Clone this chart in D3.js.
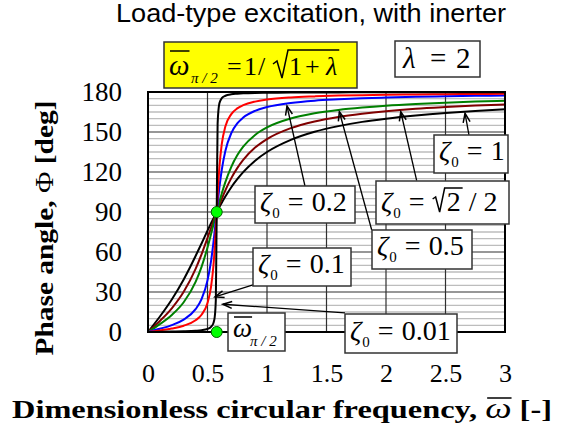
<!DOCTYPE html>
<html><head><meta charset="utf-8">
<script src="https://cdn.jsdelivr.net/npm/d3@7"></script>
<style>body{margin:0;background:#fff}svg{display:block}</style>
</head><body>
<script>
// ---- data ----
const omega = [0,0.1,0.2,0.3,0.4,0.45,0.5,0.53,0.55,0.56,0.57,0.5774,0.585,0.6,0.62,0.65,0.7,0.75,0.8,0.9,1.0,1.2,1.4,1.6,1.8,2.0,2.25,2.5,2.75,3.0];
const phiZ001 = [0,0.1,0.3,0.5,0.9,1.3,2.3,3.9,6.8,10.7,24.3,90,156.3,171.5,175.4,177.2,178.3,178.7,179.0,179.3,179.4,179.6,179.7,179.7,179.8,179.8,179.8,179.8,179.9,179.9];
const phiZ01  = [0,1.2,2.6,4.7,8.8,12.9,21.8,34.0,49.9,62.1,77.5,90,102.9,123.7,141.0,154.1,163.4,167.7,170.1,172.8,174.3,175.9,176.7,177.3,177.6,177.9,178.2,178.4,178.5,178.7];
const phiZ02  = [0,2.4,5.2,9.3,17.1,24.6,38.7,53.4,67.2,75.2,83.7,90,96.5,108.4,121.7,135.8,149.2,156.4,160.8,165.9,168.7,171.8,173.5,174.5,175.3,175.8,176.4,176.8,177.1,177.4];
const phiZ05  = [0,5.9,12.8,22.3,37.6,48.9,63.4,73.5,80.5,84.0,87.5,90,92.6,97.6,103.9,112.4,123.9,132.5,139.0,147.8,153.4,160.1,164.0,166.5,168.3,169.7,171.0,172.0,172.8,173.4];
const phiZ0707= [0,8.3,17.8,30.2,47.4,58.3,70.5,78.1,83.2,85.7,88.2,90,91.8,95.4,99.9,106.2,115.4,122.9,129.1,138.3,144.7,152.9,157.9,161.3,163.7,165.6,167.4,168.7,169.8,170.7];
const phiZ1   = [0,11.6,24.4,39.4,57.0,66.4,76.0,81.6,85.2,87.0,88.7,90,91.3,93.8,97.0,101.6,108.6,114.6,119.9,128.5,135.0,144.1,150.2,154.4,157.6,160.0,162.4,164.3,165.8,167.0];
const seriesColors = ["#000000","#ff0000","#0000ff","#008000","#800000","#000000"];
const xTicks = [0,0.5,1,1.5,2,2.5,3];
const xTickLabels = ["0","0.5","1","1.5","2","2.5","3"];
const yTicks = [0,30,60,90,120,150,180];
const yTickLabels = ["0","30","60","90","120","150","180"];
const omegaHalfPi = 0.5774;          // 1/sqrt(1+lambda), lambda = 2
const markerPoints = [[omegaHalfPi,90],[omegaHalfPi,0]];
// annotation arrows: [label, tipOmega, tipPhi, tailOmega, tailPhi]
const arrowTips = [
  ["0.2", 1.168,169.5, 1.319,109.5],
  ["0.5", 1.608,165.2, 1.880, 76.5],
  ["r2",  2.124,165.2, 2.258,113.5],
  ["1",   2.664,164.0, 2.697,147.8],
  ["0.1", 0.563, 26.3, 0.882, 35.3],
  ["0.01",0.630, 20.8, 1.655, 14.3]
];

// ---- drawing ----
const W=562,H=428;
const svg=d3.select("body").append("svg").attr("width",W).attr("height",H);
const x=d3.scaleLinear().domain([0,3]).range([148,505]);
const y=d3.scaleLinear().domain([0,180]).range([332,92]);
const serif="'Liberation Serif','Times New Roman',serif";
const sans="'Liberation Sans',Arial,sans-serif";

// minor horizontal grid every 5 deg
svg.append("g").selectAll("line").data(d3.range(5,180,5).filter(v=>v%30!==0)).join("line")
  .attr("x1",x(0)).attr("x2",x(3)).attr("y1",d=>y(d)).attr("y2",d=>y(d))
  .attr("stroke","#bdbdbd").attr("stroke-width",1.3);
// major grid
svg.append("g").selectAll("line").data(yTicks.slice(1,-1)).join("line")
  .attr("x1",x(0)).attr("x2",x(3)).attr("y1",d=>y(d)).attr("y2",d=>y(d))
  .attr("stroke","#303030").attr("stroke-width",1.2);
svg.append("g").selectAll("line").data(xTicks.slice(1,-1)).join("line")
  .attr("y1",y(0)).attr("y2",y(180)).attr("x1",d=>x(d)).attr("x2",d=>x(d))
  .attr("stroke","#303030").attr("stroke-width",1.2);

// curves
svg.append("clipPath").attr("id","clip").append("rect")
  .attr("x",x(0)).attr("y",y(180)-2).attr("width",x(3)-x(0)).attr("height",y(0)-y(180)+4);
const line=d3.line().x((d,i)=>x(omega[i])).y(d=>y(d)).curve(d3.curveMonotoneX);
const allSeries=[phiZ1,phiZ0707,phiZ05,phiZ02,phiZ01,phiZ001];
const allColors=[seriesColors[5],seriesColors[4],seriesColors[3],seriesColors[2],seriesColors[1],seriesColors[0]];
svg.append("g").attr("clip-path","url(#clip)").selectAll("path").data(allSeries).join("path")
  .attr("d",d=>line(d)).attr("fill","none").attr("stroke",(d,i)=>allColors[i]).attr("stroke-width",2);

// frame
svg.append("rect").attr("x",x(0)).attr("y",y(180)).attr("width",x(3)-x(0)).attr("height",y(0)-y(180))
  .attr("fill","none").attr("stroke","#000").attr("stroke-width",2);

// axes tick labels
const xAxis=d3.axisBottom(x).tickValues(xTicks).tickFormat((d,i)=>xTickLabels[i]).tickSize(0).tickPadding(0);
const gx=svg.append("g").attr("transform",`translate(0,${y(0)})`).call(xAxis);
gx.select(".domain").remove();
gx.selectAll("text").attr("font-family",serif).attr("font-size",26).attr("fill","#000").attr("dy",null).attr("y",50);
const yAxis=d3.axisLeft(y).tickValues(yTicks).tickFormat((d,i)=>yTickLabels[i]).tickSize(0).tickPadding(0);
const gy=svg.append("g").attr("transform",`translate(122,0)`).call(yAxis);
gy.select(".domain").remove();
gy.selectAll("text").attr("font-family",serif).attr("font-size",27).attr("fill","#000").attr("dy","0.33em").attr("x",0);

// green markers
svg.append("g").selectAll("circle").data(markerPoints).join("circle")
  .attr("cx",d=>x(d[0])).attr("cy",d=>y(d[1])).attr("r",5.5)
  .attr("fill","#00ff00").attr("stroke","#006000").attr("stroke-width",1);

// helper: math text (sequential, or absolute when p.x given)
function mathText(g,x0,yb,parts){
  let cx=x0;const pos=[];
  parts.forEach(p=>{
    if(p.x!==undefined) cx=p.x;
    if(p.skip){pos.push({x:cx,w:p.skip});cx+=p.skip;return;}
    const t=g.append("text").attr("x",cx).attr("y",yb+(p.dy||0)).attr("font-family",serif)
      .attr("font-size",p.size).attr("font-style",p.it?"italic":"normal").attr("fill","#000").text(p.t);
    const w=t.node().getComputedTextLength();
    pos.push({x:cx,w});cx+=w+(p.gap||0);
  });
  return pos;
}
function box(x0,y0,x1,y1,fill){
  const g=svg.append("g");
  g.append("rect").attr("x",x0).attr("y",y0).attr("width",x1-x0).attr("height",y1-y0)
    .attr("fill",fill||"#fff").attr("stroke","#333").attr("stroke-width",1.5);
  return g;
}

// arrows
svg.append("defs").append("marker").attr("id","ah").attr("viewBox","-10 -5 12 10")
  .attr("refX",0).attr("refY",0).attr("markerWidth",12).attr("markerHeight",10)
  .attr("markerUnits","userSpaceOnUse").attr("orient","auto")
  .append("path").attr("d","M-9,-3.5 L0,0 L-9,3.5").attr("fill","none").attr("stroke","#000").attr("stroke-width",1.5);
svg.append("g").selectAll("line").data(arrowTips).join("line")
  .attr("x1",d=>x(d[3])).attr("y1",d=>y(d[4])).attr("x2",d=>x(d[1])).attr("y2",d=>y(d[2]))
  .attr("stroke","#000").attr("stroke-width",1.3).attr("marker-end","url(#ah)");

// zeta labels
function zetaLabel(x0,y0,x1,y1,tx,ty,val){
  const g=box(x0,y0,x1,y1);
  return mathText(g,tx,ty,[{t:"ζ",it:true,size:28,gap:1},{t:"0",size:15,dy:7,gap:8},{t:"=",size:28,gap:8},{t:val,size:28}]);
}
zetaLabel(255,186,355,223,260,211,"0.2");
zetaLabel(434,135,508,173,439,160,"1");
zetaLabel(372,230,472,269,377,255,"0.5");
zetaLabel(253,248,351,286,258,273,"0.1");
zetaLabel(345,314,457,353,350,340,"0.01");
{
  const g=box(376,181,509,224);
  const p=mathText(g,381,211,[{t:"ζ",it:true,size:28,gap:1},{t:"0",size:15,dy:7,gap:8},{t:"=",size:28,gap:8},{skip:14},{t:"2",size:28,gap:8},{t:"/",size:28,gap:7},{t:"2",size:28}]);
  const r=p[3].x, e=p[4].x+p[4].w+2;
  g.append("path").attr("d",`M${r},${199} L${r+3},${197} L${r+7},${212} L${r+12},${188} L${e},${188}`)
    .attr("fill","none").attr("stroke","#000").attr("stroke-width",1.5);
}
// omega_pi/2 label
{
  const g=box(228,313,285,351);
  const p=mathText(g,233,337,[{t:"ω",it:true,size:27,gap:2},{x:250,t:"π / 2",it:true,size:15,dy:9}]);
  g.append("line").attr("x1",p[0].x+1).attr("x2",p[0].x+p[0].w).attr("y1",317).attr("y2",317).attr("stroke","#000").attr("stroke-width",1.5);
}
// formula box
{
  const g=box(164,42,357,88,"#ffff00");
  const p=mathText(g,169,75,[{x:169,t:"ω",it:true,size:29},{x:191,t:"π / 2",it:true,size:15,dy:8},{x:227,t:"=",size:26},{x:244,t:"1",size:26},{x:258,t:"/",size:26},{x:273,skip:15},{x:289,t:"1",size:26},{x:305,t:"+",size:26},{x:326,t:"λ",it:true,size:26}]);
  g.append("line").attr("x1",p[0].x+1).attr("x2",p[0].x+p[0].w).attr("y1",51).attr("y2",51).attr("stroke","#000").attr("stroke-width",1.5);
  const r=p[5].x,e=p[8].x+p[8].w+2;
  g.append("path").attr("d",`M${r},${64} L${r+4},${61} L${r+9},${78} L${r+15},${50} L${e},${50}`)
    .attr("fill","none").attr("stroke","#000").attr("stroke-width",1.5);
}
// lambda box
{
  const g=box(395,41,480,77);
  mathText(g,403,68,[{x:403,t:"λ",it:true,size:29},{x:430,t:"=",size:29},{x:456,t:"2",size:29}]);
}

// title
svg.append("text").attr("x",311).attr("y",22).attr("text-anchor","middle")
  .attr("font-family",sans).attr("font-size",25).attr("textLength",390).attr("lengthAdjust","spacingAndGlyphs")
  .text("Load-type excitation, with inerter");

// x-axis title
{
  const t=svg.append("text").attr("x",12).attr("y",418).attr("font-family",serif).attr("font-size",26).attr("font-weight","bold")
    .attr("textLength",540).attr("lengthAdjust","spacingAndGlyphs");
  t.append("tspan").text("Dimensionless circular frequency, ");
  t.append("tspan").attr("font-style","italic").attr("font-weight","normal").attr("font-size",30).text("ω");
  t.append("tspan").text(" [-]");
  const n=t.node(); const idx="Dimensionless circular frequency, ".length;
  const ext=n.getExtentOfChar(idx);
  svg.append("line").attr("x1",ext.x+2).attr("x2",ext.x+ext.width).attr("y1",398).attr("y2",398).attr("stroke","#000").attr("stroke-width",1.5);
}
// y-axis title
{
  const t=svg.append("text").attr("transform","translate(53,228) rotate(-90)").attr("text-anchor","middle")
    .attr("font-family",serif).attr("font-size",26).attr("font-weight","bold")
    .attr("textLength",255).attr("lengthAdjust","spacingAndGlyphs");
  t.append("tspan").text("Phase angle, ");
  t.append("tspan").attr("font-weight","normal").text("Φ");
  t.append("tspan").text(" [deg]");
}
</script>
</body></html>
